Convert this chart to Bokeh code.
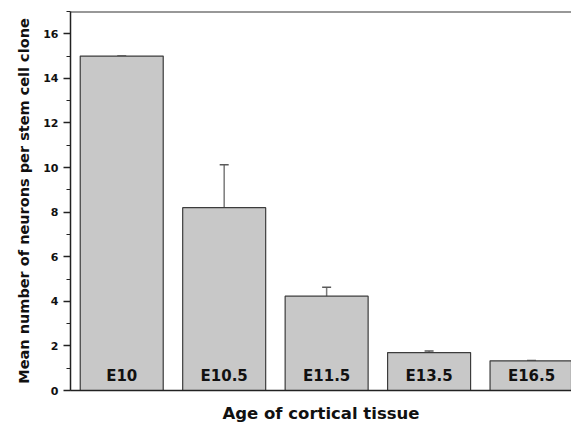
import numpy as np
from bokeh.plotting import figure
from bokeh.models import (ColumnDataSource, Range1d, SingleIntervalTicker, Whisker,
                          TeeHead, Span, FixedTicker)
from bokeh.core.properties import value
from bokeh.embed import file_html
from bokeh.resources import INLINE

# ---- data ----
ages = ["E10", "E10.5", "E11.5", "E13.5", "E16.5"]
mean_neurons = [15.0, 8.2, 4.23, 1.7, 1.33]
sem_neurons = [0.0, 1.93, 0.4, 0.07, 0.02]
y_ticks_major = [0, 2, 4, 6, 8, 10, 12, 14, 16]

FONT = "DejaVu Sans"

xpos = np.arange(len(ages)) + 0.5
src = ColumnDataSource(dict(
    x=xpos,
    age=ages,
    mean=mean_neurons,
    upper=np.array(mean_neurons) + np.array(sem_neurons),
    zero=[0] * len(ages),
))

p = figure(width=571, height=429, output_backend="svg", toolbar_location=None,
           x_range=Range1d(0, 4.89), y_range=Range1d(0, 17),
           min_border_left=70, min_border_right=0, min_border_top=11,
           min_border_bottom=39)

p.outline_line_color = None
p.background_fill_color = "white"
p.border_fill_color = "white"
p.xgrid.visible = False
p.ygrid.visible = False

p.vbar(x="x", top="mean", bottom=0, width=0.81, source=src,
       fill_color="#c8c8c8", line_color="#3c3c3c", line_width=1.2)

p.add_layout(Whisker(source=src, base="x", upper="upper", lower="mean",
                     line_color="#7a7a7a", line_width=1.5,
                     upper_head=TeeHead(size=9, line_color="#5a5a5a", line_width=1.5),
                     lower_head=None))

p.text(x="x", y="zero", text="age", source=src, y_offset=-6,
       text_align="center", text_baseline="bottom",
       text_font=value(FONT), text_font_style="bold", text_font_size="15px",
       text_color="#111111")

p.add_layout(Span(location=17, dimension="width", line_color="#333333", line_width=2))

# y axis
ya = p.yaxis[0]
ya.ticker = SingleIntervalTicker(interval=2, num_minor_ticks=2)
ya.axis_label = "Mean number of neurons per stem cell clone"
ya.axis_label_text_font = FONT
ya.axis_label_text_font_style = "bold"
ya.axis_label_text_font_size = "14.5px"
ya.axis_label_text_color = "#111111"
ya.axis_label_standoff = 8
ya.major_label_text_font = FONT
ya.major_label_text_font_style = "bold"
ya.major_label_text_font_size = "11px"
ya.major_label_text_color = "#111111"
ya.major_label_standoff = 5
ya.major_tick_in = 0
ya.major_tick_out = 7
ya.minor_tick_in = 0
ya.minor_tick_out = 4
ya.axis_line_color = "#222222"
ya.axis_line_width = 1.5
ya.major_tick_line_color = "#222222"
ya.minor_tick_line_color = "#222222"
ya.major_tick_line_width = 1.3

# x axis
xa = p.xaxis[0]
xa.ticker = FixedTicker(ticks=[])
xa.major_label_text_font_size = "0px"
xa.major_tick_line_color = None
xa.minor_tick_line_color = None
xa.axis_line_color = "#222222"
xa.axis_line_width = 1.5
xa.axis_label = "Age of cortical tissue"
xa.axis_label_text_font = FONT
xa.axis_label_text_font_style = "bold"
xa.axis_label_text_font_size = "16.5px"
xa.axis_label_text_color = "#111111"
xa.axis_label_standoff = 13

open("out.html", "w").write(file_html(p, INLINE))
